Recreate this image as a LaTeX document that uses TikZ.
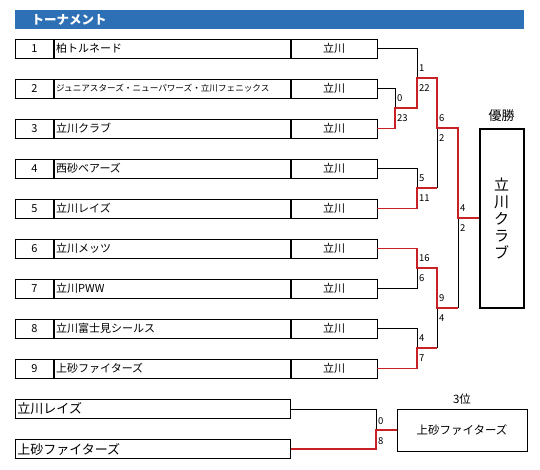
\documentclass[tikz,border=0pt]{standalone}
\usepackage{fontspec}
\setmainfont{Noto Sans CJK JP}
\usetikzlibrary{positioning}
\definecolor{barblue}{RGB}{46,112,182}
\definecolor{winred}{RGB}{200,32,36}

\tikzset{
  cell/.style={draw,line width=0.8pt,minimum height=19pt,inner sep=0pt,
    font=\fontsize{11}{11}\selectfont},
  numcell/.style={cell,minimum width=38pt},
  namecell/.style={cell,minimum width=236pt,text width=232pt,inner xsep=2pt,align=left},
  areacell/.style={cell,minimum width=86pt},
  win/.style={winred,line width=1.8pt},
  lose/.style={black,line width=0.8pt},
  score/.style={anchor=west,inner sep=1pt,font=\fontsize{9.5}{10}\selectfont}
}

\begin{document}
\begin{tikzpicture}[x=1pt,y=-1pt]
  \useasboundingbox (0,0) rectangle (540,469);

  % title bar
  \node[fill=barblue,minimum width=509pt,minimum height=19pt,inner sep=0pt,anchor=north west]
    (bar) at (15,10) {};
  \node[anchor=west,text=white,font=\fontsize{12.5}{13}\bfseries\selectfont] (title)
    at (28,19.5) {トーナメント};

  % entries
  \foreach \i/\team in {1/柏トルネード,
      2/{\fontsize{8.6}{9}\selectfont ジュニアスターズ・ニューパワーズ・立川フェニックス},
      3/立川クラブ, 4/西砂ベアーズ, 5/立川レイズ, 6/立川メッツ,
      7/立川PWW, 8/立川富士見シールス, 9/上砂ファイターズ}
  {
    \node[numcell,anchor=west] (num\i) at (15,8.5+40*\i) {\i};
    \node[namecell,right=0pt of num\i] (team\i) {\team};
    \node[areacell,right=0pt of team\i] (area\i) {立川};
  }

  % junctions
  \coordinate (j23) at (395,108);
  \coordinate (j1)  at (417,78);
  \coordinate (j45) at (417,188);
  \coordinate (jA)  at (437,128);
  \coordinate (j67) at (417,268);
  \coordinate (j89) at (417,348);
  \coordinate (jB)  at (437,308);
  \coordinate (jF)  at (458,218);

  % champion
  \node[draw,line width=2pt,minimum width=44pt,minimum height=179pt,inner sep=0pt,
    align=center,font=\fontsize{15}{17}\selectfont] (champ) at (501.5,218)
    {立\\川\\ク\\ラ\\ブ};
  \node[font=\fontsize{13}{13}\selectfont] (champlabel) at (501.5,116) {優勝};

  % bracket
  \draw[lose] (area1.east) -| (j1);
  \draw[lose] (area2.east) -| (j23);
  \draw[lose] (area4.east) -| (j45);
  \draw[lose] (j45 -| jA) -- (jA);
  \draw[lose] (area7.east) -| (j67);
  \draw[lose] (area8.east) -| (j89);
  \draw[lose] (j89 -| jB) -- (jB);
  \draw[lose] (jB -| jF) -- (jF);

  \draw[win] (area3.east) -| (j23) -| (j1) -| (jA) -| (jF) -- (champ.west);
  \draw[win] (area5.east) -| (j45) -- (j45 -| jA);
  \draw[win] (area6.east) -| (j67) -| (jB) -- (jB -| jF);
  \draw[win] (area9.east) -| (j89) -- (j89 -| jB);

  % scores
  \node[score] (s1)  at (418,68)  {1};
  \node[score] (s2)  at (418,88)  {22};
  \node[score] (s3)  at (396,98)  {0};
  \node[score] (s4)  at (396,118) {23};
  \node[score] (s5)  at (438,118) {6};
  \node[score] (s6)  at (438,138) {2};
  \node[score] (s7)  at (418,178) {5};
  \node[score] (s8)  at (418,198) {11};
  \node[score] (s9)  at (459,208) {4};
  \node[score] (s10) at (459,228) {2};
  \node[score] (s11) at (418,258) {16};
  \node[score] (s12) at (418,278) {6};
  \node[score] (s13) at (438,298) {9};
  \node[score] (s14) at (438,318) {4};
  \node[score] (s15) at (418,338) {4};
  \node[score] (s16) at (418,358) {7};

  % third place
  \node[cell,anchor=west,minimum width=275pt,text width=271pt,inner xsep=2pt,align=left,
    font=\fontsize{13}{13}\selectfont] (tp1) at (15,409) {立川レイズ};
  \node[cell,anchor=west,minimum width=275pt,text width=271pt,inner xsep=2pt,align=left,
    font=\fontsize{13}{13}\selectfont] (tp2) at (15,449) {上砂ファイターズ};
  \coordinate (j3) at (376,430);
  \node[draw,line width=0.8pt,minimum width=130pt,minimum height=42pt,
    font=\fontsize{11.5}{12}\selectfont] (third) at (462,430) {上砂ファイターズ};
  \node[font=\fontsize{11.5}{12}\selectfont] (thirdlabel) at (462,399) {3位};

  \draw[lose] (tp1.east) -| (j3);
  \draw[win] (tp2.east) -| (j3) -- (third.west);
  \node[score] (t1) at (377,421) {0};
  \node[score] (t2) at (377,441) {8};
\end{tikzpicture}
\end{document}
